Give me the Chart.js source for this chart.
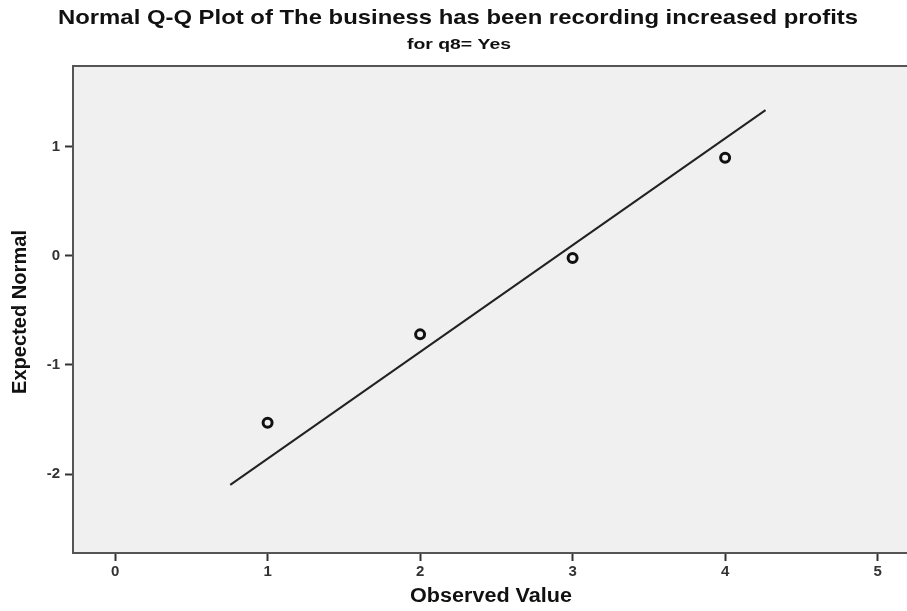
<!DOCTYPE html>
<html>
<head>
<meta charset="utf-8">
<script src="https://cdn.jsdelivr.net/npm/chart.js@4/dist/chart.umd.min.js"></script>
<style>
  html, body { margin: 0; padding: 0; background: #ffffff; overflow: hidden; }
  #wrap { width: 907px; height: 611px; overflow: hidden; }
  #qq { display: block; }
</style>
</head>
<body>
<div id="wrap"><canvas id="qq" width="915" height="611"></canvas></div>
<script>
// Observed values and their expected normal scores
const observed = [1, 2, 3, 4];
const expectedNormal = [-1.53, -0.72, -0.02, 0.90];

// Reference line endpoints
const lineX = [0.755, 4.265];
const lineY = [-2.10, 1.336];

// Axis tick values
const xTicks = [0, 1, 2, 3, 4, 5];
const yTicks = [-2, -1, 0, 1];

const titleText = 'Normal Q-Q Plot of The business has been recording increased profits';
const subtitleText = 'for q8= Yes';
const xTitle = 'Observed Value';
const yTitle = 'Expected Normal';

const FONT = '"Liberation Sans", Arial, sans-serif';

const pointsData = observed.map((x, i) => ({ x: x, y: expectedNormal[i] }));
const lineData = lineX.map((x, i) => ({ x: x, y: lineY[i] }));

// Plot background and the top frame edge
const framePlugin = {
  id: 'frame',
  beforeDraw(chart) {
    const { ctx, chartArea: a } = chart;
    ctx.save();
    ctx.fillStyle = '#f0f0f0';
    ctx.fillRect(a.left, a.top, a.right - a.left, a.bottom - a.top);
    ctx.restore();
  },
  afterDraw(chart) {
    const { ctx, chartArea: a } = chart;
    ctx.save();
    ctx.strokeStyle = '#555555';
    ctx.lineWidth = 2;
    ctx.beginPath();
    ctx.moveTo(a.left - 1, a.top);
    ctx.lineTo(a.right, a.top);
    ctx.stroke();
    ctx.restore();
  }
};

// Draws a string centred at (x, y), squeezed or widened to a given width
function fitText(ctx, text, x, y, width) {
  const w = ctx.measureText(text).width;
  ctx.save();
  ctx.translate(x, y);
  ctx.scale(width / w, 1);
  ctx.fillText(text, 0, 0);
  ctx.restore();
}

// Titles and axis labels
const textPlugin = {
  id: 'texts',
  afterDraw(chart) {
    const ctx = chart.ctx;
    ctx.save();
    ctx.fillStyle = '#111111';
    ctx.textAlign = 'center';
    ctx.textBaseline = 'middle';

    ctx.font = 'bold 21px ' + FONT;
    fitText(ctx, titleText, 458, 18, 800);

    ctx.font = 'bold 15px ' + FONT;
    fitText(ctx, subtitleText, 459, 45, 104);

    ctx.font = 'bold 20px ' + FONT;
    fitText(ctx, xTitle, 491, 596, 162);

    ctx.save();
    ctx.translate(20, 312);
    ctx.rotate(-Math.PI / 2);
    fitText(ctx, yTitle, 0, 0, 164);
    ctx.restore();

    ctx.restore();
  }
};

new Chart(document.getElementById('qq'), {
  type: 'scatter',
  data: {
    datasets: [
      {
        type: 'line',
        data: lineData,
        borderColor: '#222222',
        borderWidth: 2,
        pointRadius: 0,
        fill: false,
        order: 2
      },
      {
        data: pointsData,
        pointStyle: 'circle',
        pointRadius: 4.5,
        pointBorderWidth: 3,
        borderColor: '#111111',
        backgroundColor: 'rgba(0,0,0,0)',
        order: 1
      }
    ]
  },
  options: {
    responsive: false,
    devicePixelRatio: 1,
    animation: false,
    layout: { padding: { top: 66, left: 0, right: 0, bottom: 0 } },
    plugins: {
      legend: { display: false },
      title: { display: false },
      tooltip: { enabled: false }
    },
    scales: {
      x: {
        type: 'linear',
        min: -0.276,
        max: 5.196,
        afterFit(scale) {
          scale.height = 58;
          scale.paddingLeft = 0;
          scale.paddingRight = 0;
        },
        afterBuildTicks(scale) { scale.ticks = xTicks.map(v => ({ value: v })); },
        grid: {
          drawOnChartArea: false,
          drawTicks: true,
          tickLength: 8,
          tickWidth: 2,
          tickColor: '#333333'
        },
        border: { display: true, color: '#555555', width: 2 },
        ticks: {
          color: '#333333',
          font: { family: FONT, size: 15, weight: 'bold' },
          padding: 2,
          maxRotation: 0
        }
      },
      y: {
        type: 'linear',
        min: -2.724,
        max: 1.74,
        afterFit(scale) {
          scale.width = 73;
          scale.paddingTop = 0;
          scale.paddingBottom = 0;
        },
        afterBuildTicks(scale) { scale.ticks = yTicks.map(v => ({ value: v })); },
        grid: {
          drawOnChartArea: false,
          drawTicks: true,
          tickLength: 8,
          tickWidth: 2,
          tickColor: '#333333'
        },
        border: { display: true, color: '#555555', width: 2 },
        ticks: {
          color: '#333333',
          font: { family: FONT, size: 15, weight: 'bold' },
          padding: 5
        }
      }
    }
  },
  plugins: [framePlugin, textPlugin]
});
</script>
</body>
</html>
